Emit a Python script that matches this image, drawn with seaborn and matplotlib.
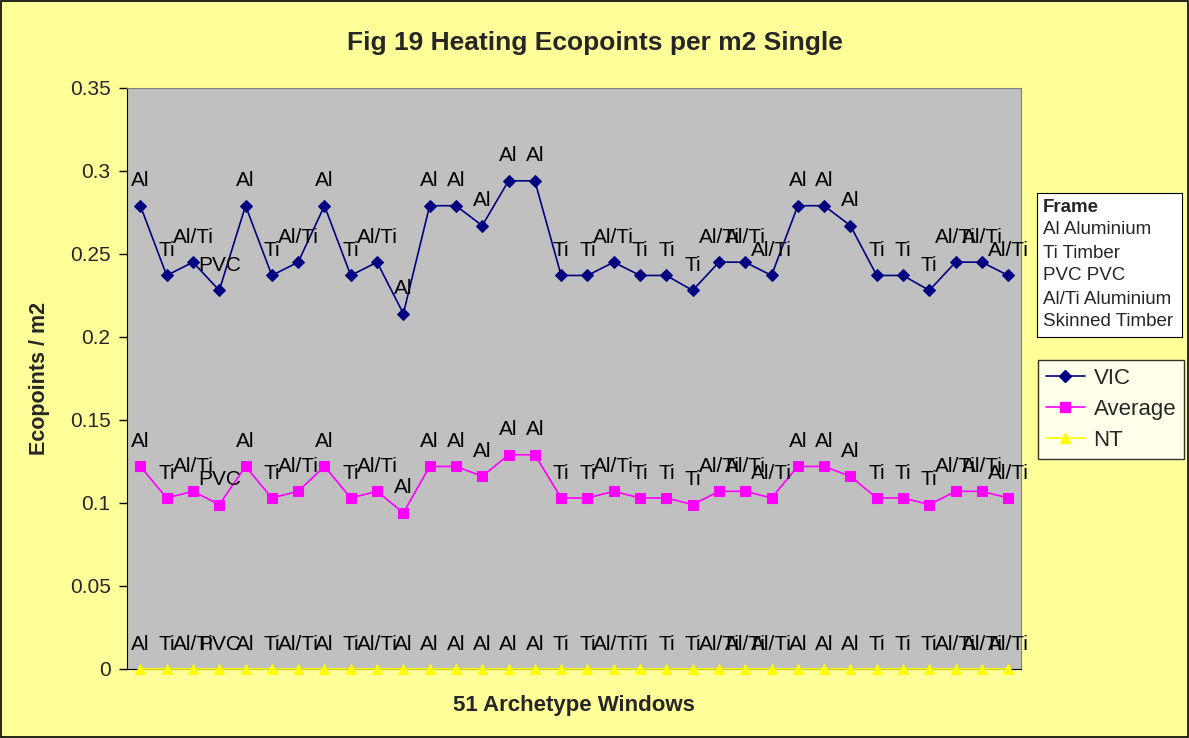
import matplotlib
matplotlib.use("Agg")
import matplotlib.pyplot as plt
import matplotlib.patches as mpatches
from matplotlib.lines import Line2D
import numpy as np
import pandas as pd
import seaborn as sns

# frame type for each of the archetype windows
frames = ["Al", "Ti", "Al/Ti", "PVC", "Al", "Ti", "Al/Ti", "Al", "Ti", "Al/Ti",
          "Al", "Al", "Al", "Al", "Al", "Al", "Ti", "Ti", "Al/Ti", "Ti",
          "Ti", "Ti", "Al/Ti", "Al/Ti", "Al/Ti", "Al", "Al", "Al", "Ti", "Ti",
          "Ti", "Al/Ti", "Al/Ti", "Al/Ti"]

vic = [0.279, 0.237, 0.245, 0.228, 0.279, 0.237, 0.245, 0.279, 0.237, 0.245,
       0.214, 0.279, 0.279, 0.267, 0.294, 0.294, 0.237, 0.237, 0.245, 0.237,
       0.237, 0.228, 0.245, 0.245, 0.237, 0.279, 0.279, 0.267, 0.237, 0.237,
       0.228, 0.245, 0.245, 0.237]

average = [0.122, 0.103, 0.107, 0.099, 0.122, 0.103, 0.107, 0.122, 0.103, 0.107,
           0.094, 0.122, 0.122, 0.116, 0.129, 0.129, 0.103, 0.103, 0.107, 0.103,
           0.103, 0.099, 0.107, 0.107, 0.103, 0.122, 0.122, 0.116, 0.103, 0.103,
           0.099, 0.107, 0.107, 0.103]

nt = [0.0] * len(frames)

frame_legend = ["Al Aluminium", "Ti Timber", "PVC PVC", "Al/Ti Aluminium", "Skinned Timber"]
yticks = [0, 0.05, 0.1, 0.15, 0.2, 0.25, 0.3, 0.35]
ytick_labels = ["0", "0.05", "0.1", "0.15", "0.2", "0.25", "0.3", "0.35"]

sns.set_style("white")
plt.rcParams['font.family'] = ['Liberation Sans', 'DejaVu Sans']

fig = plt.figure(figsize=(11.89, 7.38), dpi=100)
fig.patch.set_facecolor("#FFFF99")
fig.patches.append(mpatches.Rectangle((0.001, 0.001), 0.998, 0.997, transform=fig.transFigure,
                                      fill=False, edgecolor="black", linewidth=1.2))

ax = fig.add_axes([0.107, 0.0935, 0.752, 0.7875])
ax.set_facecolor("#C0C0C0")

x = np.arange(len(frames))
df = pd.DataFrame({"idx": x, "VIC": vic, "Average": average, "NT": nt})

series = [("VIC", "#000080", "D", 6), ("Average", "#FF00FF", "s", 7), ("NT", "#FFFF00", "^", 7)]
for name, color, marker, ms in series:
    sns.lineplot(data=df, x="idx", y=name, ax=ax, color=color, marker=marker,
                 markersize=ms, markeredgecolor=color, linewidth=1.2, clip_on=False, zorder=3)
    for xi, yi, lab in zip(x, df[name], frames):
        ax.annotate(lab, (xi, yi), xytext=(0, 14), textcoords="offset points",
                    ha="center", va="baseline", fontsize=15, color="black", zorder=4)

ax.set_xlim(-0.5, len(frames) - 0.5)
ax.set_ylim(0, 0.35)
ax.set_xticks([])
ax.set_yticks(yticks)
ax.set_yticklabels(ytick_labels, fontsize=15)
ax.tick_params(axis="y", direction="out", length=6, width=1, color="black", left=True, pad=6)
ax.set_xlabel("51 Archetype Windows", fontsize=16, fontweight="bold", labelpad=19)
ax.set_ylabel("Ecopoints / m2", fontsize=15.5, fontweight="bold", labelpad=14)
for side in ["top", "right"]:
    ax.spines[side].set_color("#808080")
ax.spines["left"].set_color("black")
ax.spines["bottom"].set_color("black")

fig.text(0.5, 0.942, "Fig 19 Heating Ecopoints per m2 Single", ha="center", va="center",
         fontsize=19, fontweight="bold")

# frame text box
frame_ax = fig.add_axes([1037 / 1189, 1 - 337 / 738, 145 / 1189, 144 / 738])
frame_ax.set_xticks([])
frame_ax.set_yticks([])
frame_ax.set_facecolor("white")
for s in frame_ax.spines.values():
    s.set_color("black")
frame_ax.text(0.04, (337 - 207) / 144, "Frame", fontsize=13.5, fontweight="bold", va="center",
              transform=frame_ax.transAxes)
for i, t in enumerate(frame_legend):
    frame_ax.text(0.04, (337 - 207 - (i + 1) * 23) / 144, t, fontsize=13.5, va="center",
                  transform=frame_ax.transAxes)

handles = [Line2D([0], [0], color=c, marker=m, markersize=ms, markeredgecolor=c, linewidth=1.2)
           for _, c, m, ms in series]
leg = fig.legend(handles, [s[0] for s in series], loc="upper left",
                 bbox_to_anchor=(1038 / 1189, 1 - 360 / 738), fontsize=16, frameon=True,
                 fancybox=False, edgecolor="black", handlelength=1.75, borderpad=0.35,
                 labelspacing=0.45, handletextpad=0.4, borderaxespad=0)
leg.get_frame().set_linewidth(1)

fig.savefig("out.png", dpi=100, facecolor=fig.get_facecolor())
